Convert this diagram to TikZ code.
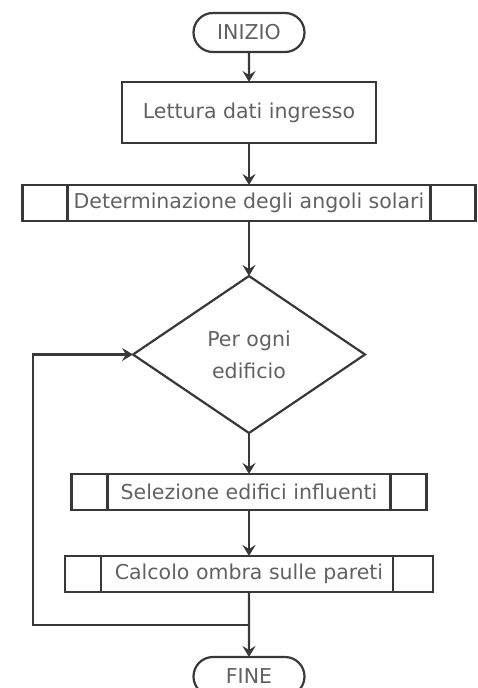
\documentclass[tikz,border=0pt]{standalone}
\usepackage{fontspec}
\setsansfont{DejaVu Sans}
\usepackage{tikz}
\usetikzlibrary{positioning,arrows.meta,shapes.misc,shapes.geometric}

\begin{document}
\begin{tikzpicture}[x=1pt, y=1pt, >={Stealth[length=11pt,width=13pt,inset=4pt]},
  line/.style={draw=black!78, line width=2.2pt},
  base/.style={line, text=black!62, inner sep=2pt, outer sep=0pt,
    font=\sffamily\fontsize{20.5}{32}\selectfont, align=center},
  term/.style={base, rounded rectangle, minimum width=115pt, minimum height=39pt},
  box/.style={base, rectangle, minimum width=254pt, minimum height=61pt},
  sub/.style={base, rectangle, minimum width=#1, minimum height=36pt},
  cond/.style={base, diamond, aspect=1.48, minimum width=232pt, minimum height=157pt}]
  \useasboundingbox (0,0) rectangle (477,-688);

  \node[term] (start) at (249,-32.5) {INIZIO};
  \node[box, below=30pt of start] (read) {Lettura dati ingresso};
  \node[sub=453pt, below=42pt of read] (sun) {Determinazione degli angoli solari};
  \node[cond, below=55pt of sun] (each) {Per ogni\\edificio};
  \node[sub=355pt, below=41pt of each] (sel) {Selezione edifici influenti};
  \node[sub=368pt, below=46pt of sel] (shade) {Calcolo ombra sulle pareti};
  \node[term, below=65pt of shade] (fine) {FINE};

  % side bars of the sub-process boxes
  \draw[line] ([xshift=45pt]sun.north west) -- ([xshift=45pt]sun.south west);
  \draw[line] ([xshift=-45pt]sun.north east) -- ([xshift=-45pt]sun.south east);
  \draw[line] ([xshift=36pt]sel.north west) -- ([xshift=36pt]sel.south west);
  \draw[line] ([xshift=-36pt]sel.north east) -- ([xshift=-36pt]sel.south east);
  \draw[line] ([xshift=36pt]shade.north west) -- ([xshift=36pt]shade.south west);
  \draw[line] ([xshift=-40pt]shade.north east) -- ([xshift=-40pt]shade.south east);

  \draw[line, ->] (start) -- (read);
  \draw[line, ->] (read) -- (sun);
  \draw[line, ->] (sun) -- (each);
  \draw[line, ->] (each) -- (sel);
  \draw[line, ->] (sel) -- (shade);
  \draw[line, ->] (shade) -- (fine);

  % back to the loop
  \coordinate[below=33pt of shade.south] (jn);
  \coordinate (back) at (33,0 |- jn);
  \draw[line, ->] (jn) -- (back) |- (each.west);
\end{tikzpicture}
\end{document}
